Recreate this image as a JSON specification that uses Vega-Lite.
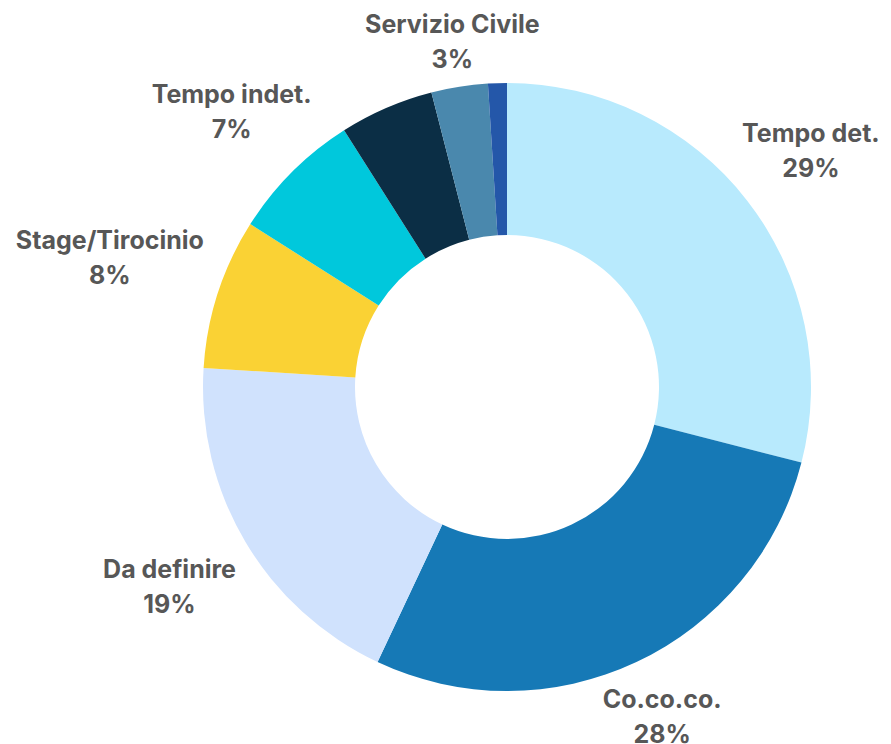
{
  "$schema": "https://vega.github.io/schema/vega-lite/v6.json",
  "width": 768,
  "height": 714,
  "autosize": "none",
  "padding": {"left": 123, "top": 30, "right": 0, "bottom": 0},
  "background": "white",
  "config": {"view": {"stroke": null}},
  "data": {
    "values": [
      {"category": "Tempo det.", "share": 0.29, "show": true},
      {"category": "Co.co.co.", "share": 0.28, "show": true},
      {"category": "Da definire", "share": 0.19, "show": true},
      {"category": "Stage/Tirocinio", "share": 0.08, "show": true},
      {"category": "Tempo indet.", "share": 0.07, "show": true},
      {"category": "Apprendistato", "share": 0.05, "show": false},
      {"category": "Servizio Civile", "share": 0.03, "show": true},
      {"category": "Altro", "share": 0.01, "show": false}
    ]
  },
  "encoding": {
    "theta": {"field": "share", "type": "quantitative", "stack": true},
    "order": {"field": "share", "type": "quantitative", "sort": "descending"}
  },
  "layer": [
    {
      "mark": {"type": "arc", "innerRadius": 152, "outerRadius": 304},
      "encoding": {
        "color": {
          "field": "category",
          "type": "nominal",
          "legend": null,
          "scale": {
            "domain": ["Tempo det.", "Co.co.co.", "Da definire", "Stage/Tirocinio", "Tempo indet.", "Apprendistato", "Servizio Civile", "Altro"],
            "range": ["#b8eafd", "#1679b6", "#d0e2fd", "#fad234", "#00c8dc", "#0b2e45", "#4a88ad", "#2457a9"]
          }
        }
      }
    },
    {
      "mark": {
        "type": "text",
        "radius": {"expr": "(345*abs(sin(PI*(datum.share_start+datum.share_end))) <= length(datum.category)*6.4*abs(cos(PI*(datum.share_start+datum.share_end)))) ? 345/abs(cos(PI*(datum.share_start+datum.share_end))) : (((318+length(datum.category)*6.4)*abs(cos(PI*(datum.share_start+datum.share_end))) <= 27*abs(sin(PI*(datum.share_start+datum.share_end)))) ? (318+length(datum.category)*6.4)/abs(sin(PI*(datum.share_start+datum.share_end))) : (abs(sin(PI*(datum.share_start+datum.share_end)))*length(datum.category)*6.4 + abs(cos(PI*(datum.share_start+datum.share_end)))*27 + sqrt(pow(abs(sin(PI*(datum.share_start+datum.share_end)))*length(datum.category)*6.4 + abs(cos(PI*(datum.share_start+datum.share_end)))*27, 2) - pow(length(datum.category)*6.4, 2) + 100395)))"},
        "dy": -17,
        "baseline": "middle",
        "align": "center",
        "font": "Inter",
        "fontWeight": "bold",
        "fontSize": 25
      },
      "encoding": {
        "detail": {"field": "category", "type": "nominal"},
        "color": {"value": "#575757"},
        "text": {"condition": {"test": "!datum.show", "value": ""}, "field": "category", "type": "nominal"}
      }
    },
    {
      "mark": {
        "type": "text",
        "radius": {"expr": "(345*abs(sin(PI*(datum.share_start+datum.share_end))) <= length(datum.category)*6.4*abs(cos(PI*(datum.share_start+datum.share_end)))) ? 345/abs(cos(PI*(datum.share_start+datum.share_end))) : (((318+length(datum.category)*6.4)*abs(cos(PI*(datum.share_start+datum.share_end))) <= 27*abs(sin(PI*(datum.share_start+datum.share_end)))) ? (318+length(datum.category)*6.4)/abs(sin(PI*(datum.share_start+datum.share_end))) : (abs(sin(PI*(datum.share_start+datum.share_end)))*length(datum.category)*6.4 + abs(cos(PI*(datum.share_start+datum.share_end)))*27 + sqrt(pow(abs(sin(PI*(datum.share_start+datum.share_end)))*length(datum.category)*6.4 + abs(cos(PI*(datum.share_start+datum.share_end)))*27, 2) - pow(length(datum.category)*6.4, 2) + 100395)))"},
        "dy": 18,
        "baseline": "middle",
        "align": "center",
        "font": "Inter",
        "fontWeight": "bold",
        "fontSize": 25
      },
      "encoding": {
        "detail": {"field": "category", "type": "nominal"},
        "color": {"value": "#575757"},
        "text": {"condition": {"test": "!datum.show", "value": ""}, "field": "share", "type": "quantitative", "format": ".0%"}
      }
    }
  ]
}
